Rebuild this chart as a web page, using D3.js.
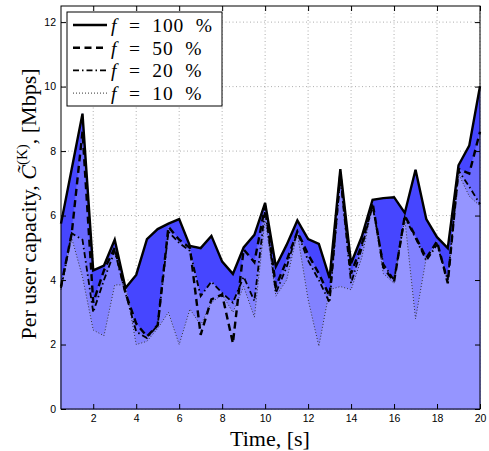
<!DOCTYPE html>
<html><head><meta charset="utf-8">
<script src="https://cdn.jsdelivr.net/npm/d3@7"></script>
<style>body{margin:0;background:#fff}</style>
</head><body><svg id="c" width="489" height="451"></svg>
<script>
const time = [0.5,1,1.5,2,2.5,3,3.5,4,4.5,5,5.5,6,6.5,7,7.5,8,8.5,9,9.5,10,10.5,11,11.5,12,12.5,13,13.5,14,14.5,15,15.5,16,16.5,17,17.5,18,18.5,19,19.5,20];
const cap100 = [5.75,7.45,9.16,4.30,4.45,5.25,3.75,4.16,5.27,5.58,5.75,5.89,5.06,4.99,5.37,4.57,4.19,5.01,5.40,6.39,4.42,5.09,5.85,5.27,5.12,4.06,7.44,4.52,5.35,6.49,6.54,6.57,6.08,7.42,5.89,5.33,4.99,7.56,8.17,10.01];
const cap50  = [3.8,5.45,8.6,3.3,4.3,5.0,3.6,2.65,2.25,2.6,5.65,5.25,5.0,2.3,3.4,3.55,2.04,4.95,4.55,6.3,3.8,4.6,5.5,4.8,4.2,3.5,7.3,4.2,5.1,6.4,4.4,3.95,6.0,5.35,4.68,5.2,3.9,7.45,7.3,8.6];
const cap20  = [3.75,5.45,5.25,3.0,4.0,4.9,3.6,2.4,2.2,2.6,5.5,5.15,4.9,3.5,3.95,3.6,3.3,4.1,3.35,6.2,3.6,4.4,5.5,4.6,4.0,3.3,7.2,3.9,5.0,6.3,4.5,4.0,5.95,5.3,4.6,5.1,4.0,7.4,6.9,6.35];
const cap10  = [3.7,5.3,4.1,2.45,2.27,3.85,3.85,2.0,2.1,2.5,3.0,2.0,3.1,2.6,3.3,3.55,3.0,3.8,2.85,5.9,3.5,4.0,5.45,3.4,1.95,3.7,3.8,3.7,4.7,6.3,4.2,3.9,5.9,2.8,4.7,5.1,4.0,7.3,6.6,6.3];
const fractions = ["100","50","20","10"];
const xTicks = [2,4,6,8,10,12,14,16,18,20];
const yTicks = [0,2,4,6,8,10,12];

const series = [
  {f:fractions[0], v:cap100, fill:"#4646ff", dash:null, w:2.4, stroke:"#000"},
  {f:fractions[1], v:cap50,  fill:"#6a6aff", dash:"7,4.5", w:2.4, stroke:"#000"},
  {f:fractions[2], v:cap20,  fill:"#8282ff", dash:"6,3,1.5,3", w:1.8, stroke:"#000"},
  {f:fractions[3], v:cap10,  fill:"#9595ff", dash:"1,2", w:1, stroke:"#333"}
];

const svg = d3.select("#c");
const L=61, R=480, T=6, B=409;
const x = d3.scaleLinear().domain([0.5,20]).range([L,R]);
const y = d3.scaleLinear().domain([0,12.5]).range([B,T]);

// grid
const grid = svg.append("g").attr("stroke","#999").attr("stroke-width",0.8).attr("stroke-dasharray","1,2.5");
grid.selectAll(".gx").data(xTicks).enter().append("line")
  .attr("x1",d=>x(d)).attr("x2",d=>x(d)).attr("y1",T).attr("y2",B);
grid.selectAll(".gy").data(yTicks).enter().append("line")
  .attr("x1",L).attr("x2",R).attr("y1",d=>y(d)).attr("y2",d=>y(d));

// areas
const area = d3.area().x((d,i)=>x(time[i])).y0(y(0)).y1(d=>y(d));
svg.append("g").selectAll("path").data(series).enter().append("path")
  .attr("d",s=>area(s.v)).attr("fill",s=>s.fill).attr("stroke",s=>s.fill).attr("stroke-width",0.5);

// lines
const line = d3.line().x((d,i)=>x(time[i])).y(d=>y(d));
svg.append("g").selectAll("path").data(series.slice().reverse()).enter().append("path")
  .attr("d",s=>line(s.v)).attr("fill","none").attr("stroke",s=>s.stroke)
  .attr("stroke-width",s=>s.w).attr("stroke-dasharray",s=>s.dash)
  .attr("stroke-linejoin","miter");

// axes
const tickFont = "'Liberation Sans', Arial, sans-serif";
svg.append("g").attr("transform",`translate(0,${B})`)
  .call(d3.axisBottom(x).tickValues(xTicks).tickSizeInner(-5).tickSizeOuter(0).tickPadding(6).tickFormat(d3.format("d")));
svg.append("g").attr("transform",`translate(${L},0)`)
  .call(d3.axisLeft(y).tickValues(yTicks).tickSizeInner(-5).tickSizeOuter(0).tickPadding(5).tickFormat(d3.format("d")));
svg.append("g").attr("transform",`translate(0,${T})`)
  .call(d3.axisTop(x).tickValues(xTicks).tickSizeInner(-5).tickSizeOuter(0).tickFormat(""));
svg.append("g").attr("transform",`translate(${R},0)`)
  .call(d3.axisRight(y).tickValues(yTicks).tickSizeInner(-5).tickSizeOuter(0).tickFormat(""));
svg.selectAll(".domain").remove();
svg.selectAll(".tick text").attr("font-family",tickFont).attr("font-size",10.5).attr("fill","#000");
svg.selectAll(".tick line").attr("stroke","#000");

svg.append("rect").attr("x",L).attr("y",T).attr("width",R-L).attr("height",B-T)
  .attr("fill","none").attr("stroke","#000").attr("stroke-width",1);

// legend
const serif = "'Liberation Serif', 'Times New Roman', serif";
const lg = svg.append("g");
lg.append("rect").attr("x",67).attr("y",12).attr("width",155).attr("height",94)
  .attr("fill","#fff").attr("stroke","#000").attr("stroke-width",1);
series.forEach((s,i)=>{
  const cy = 25 + i*22.7;
  lg.append("line").attr("x1",73).attr("x2",107).attr("y1",cy).attr("y2",cy)
    .attr("stroke",s.stroke).attr("stroke-width",s.w).attr("stroke-dasharray",s.dash);
  const t = lg.append("text").attr("x",111).attr("y",cy+7).attr("font-family",serif)
    .attr("font-size",19.5).attr("letter-spacing",0.8).attr("word-spacing",6).attr("fill","#000");
  t.append("tspan").attr("font-style","italic").text("f");
  t.append("tspan").text(` = ${s.f} %`);
});

// axis labels
svg.append("text").attr("x",270).attr("y",446).attr("text-anchor","middle")
  .attr("font-family",serif).attr("font-size",22).text("Time, [s]");
const yl = svg.append("text").attr("transform","translate(36,204) rotate(-90)")
  .attr("text-anchor","middle").attr("font-family",serif).attr("font-size",22);
yl.append("tspan").text("Per user capacity, ");
yl.append("tspan").attr("font-style","italic").text("C\u0303");
yl.append("tspan").attr("font-size",15).attr("dy",-9).text("(K)");
yl.append("tspan").attr("dy",9).text(", [Mbps]");
</script></body></html>
